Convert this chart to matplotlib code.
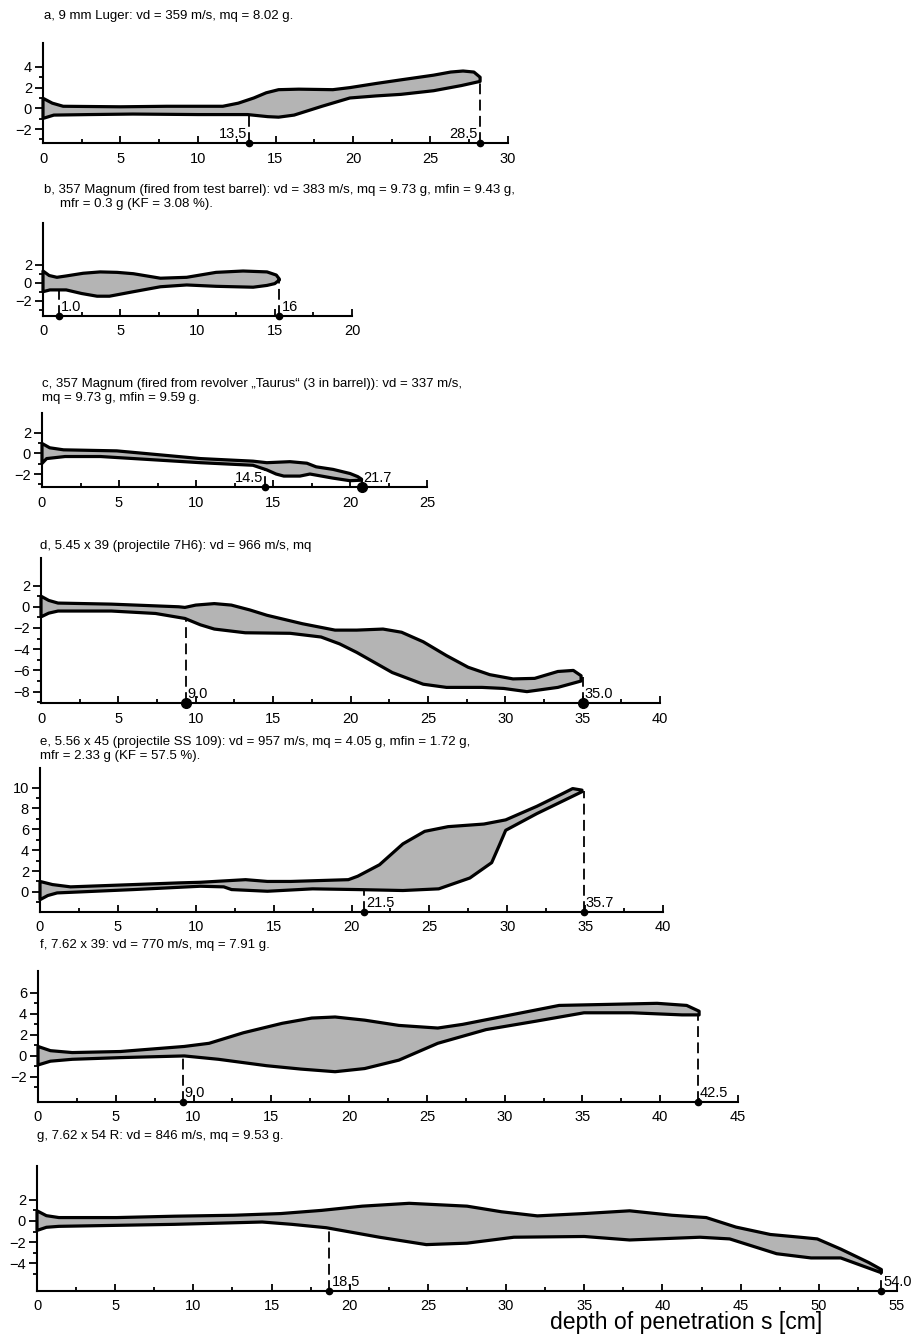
import matplotlib.pyplot as plt
from matplotlib.ticker import MultipleLocator, FixedLocator

plt.rcParams['font.family'] = ['Liberation Sans', 'DejaVu Sans']

W, H = 914, 1343

# ---- contour data (x = depth in cm, y = channel edge in cm)
titles = [
    ["a, 9 mm Luger: vd = 359 m/s, mq = 8.02 g."],
    ["b, 357 Magnum (fired from test barrel): vd = 383 m/s, mq = 9.73 g, mfin = 9.43 g,",
     "mfr = 0.3 g (KF = 3.08 %)."],
    ["c, 357 Magnum (fired from revolver \u201eTaurus\u201c (3 in barrel)): vd = 337 m/s,",
     "mq = 9.73 g, mfin = 9.59 g."],
    ["d, 5.45 x 39 (projectile 7H6): vd = 966 m/s, mq"],
    ["e, 5.56 x 45 (projectile SS 109): vd = 957 m/s, mq = 4.05 g, mfin = 1.72 g,",
     "mfr = 2.33 g (KF = 57.5 %)."],
    ["f, 7.62 x 39: vd = 770 m/s, mq = 7.91 g."],
    ["g, 7.62 x 54 R: vd = 846 m/s, mq = 9.53 g."],
]

a_up_x = [0, 0.6, 1.3, 5, 8, 11.6, 12.6, 13.6, 14.4, 15.2, 16.5, 18.7, 19.8, 21.5, 23.1, 25.2, 26.3, 27.1, 27.8, 28.2]
a_up_y = [0.97, 0.5, 0.2, 0.15, 0.2, 0.2, 0.5, 1.0, 1.5, 1.8, 1.85, 1.8, 2.0, 2.4, 2.75, 3.2, 3.5, 3.6, 3.5, 3.0]
a_lo_x = [0, 0.7, 3, 5.8, 10, 13.2, 14.5, 15.2, 16.2, 18, 19.8, 21.5, 23.1, 25.2, 27, 28.2]
a_lo_y = [-0.97, -0.65, -0.6, -0.55, -0.6, -0.6, -0.8, -0.85, -0.65, 0.2, 1.0, 1.2, 1.35, 1.7, 2.2, 2.6]
a_marks = [13.3, 28.2]
a_tops = [-0.6, 2.8]
a_labels = ['13.5', '28.5']

b_up_x = [0, 0.4, 0.9, 1.5, 2.6, 3.7, 4.8, 5.85, 7.6, 9.3, 11.2, 12.95, 14.5, 15.1, 15.3]
b_up_y = [1.3, 0.8, 0.6, 0.75, 1.05, 1.2, 1.15, 1.0, 0.5, 0.6, 1.15, 1.3, 1.2, 0.85, 0.4]
b_lo_x = [0, 0.45, 1.5, 2.5, 3.5, 4.3, 5.85, 7.6, 9.3, 11.2, 13.6, 14.5, 15.0, 15.3]
b_lo_y = [-1.0, -0.8, -0.8, -1.2, -1.5, -1.5, -1.0, -0.45, -0.25, -0.4, -0.5, -0.3, -0.1, 0.3]
b_marks = [1.04, 15.3]
b_tops = [-0.8, 0.35]
b_labels = ['1.0', '16']

c_up_x = [0, 0.5, 1.4, 4.85, 10.3, 13.7, 14.6, 16.1, 17.2, 17.8, 18.9, 20, 20.5, 20.75]
c_up_y = [0.97, 0.55, 0.35, 0.25, -0.5, -0.75, -0.9, -0.8, -0.95, -1.3, -1.55, -1.95, -2.25, -2.5]
c_lo_x = [0, 0.3, 1.5, 3.8, 10.3, 13.7, 14.6, 15.2, 15.7, 16.75, 17.4, 18.9, 20, 20.75]
c_lo_y = [-0.97, -0.5, -0.3, -0.3, -0.9, -1.15, -1.6, -2.0, -2.2, -2.2, -2.0, -2.4, -2.65, -2.6]
c_marks = [14.5, 20.75]
c_tops = [-1.5, -2.55]
c_labels = ['14.5', '21.7']

d_up_x = [0, 0.5, 1.1, 4.55, 8.9, 9.3, 10.0, 11.2, 12.3, 13.5, 14.6, 16.9, 19.0, 20.4, 22.1, 23.3, 24.7, 26.2, 27.6, 29.0, 30.5, 31.9, 33.4, 34.4, 34.9]
d_up_y = [1.0, 0.6, 0.35, 0.25, 0.0, -0.06, 0.16, 0.3, 0.16, -0.3, -0.8, -1.6, -2.2, -2.2, -2.1, -2.4, -3.3, -4.6, -5.7, -6.4, -6.8, -6.75, -6.1, -6.0, -6.5]
d_lo_x = [0, 0.5, 1.1, 4.55, 7.4, 9.3, 10.3, 11.2, 13.2, 16.1, 18.1, 19.3, 20.4, 22.7, 24.7, 26.2, 28.5, 29.9, 31.4, 33.4, 34.9]
d_lo_y = [-0.95, -0.6, -0.4, -0.4, -0.63, -1.1, -1.7, -2.1, -2.45, -2.5, -2.85, -3.5, -4.3, -6.2, -7.3, -7.6, -7.6, -7.7, -8.0, -7.6, -7.0]
d_marks = [9.35, 35.0]
d_tops = [-1.1, -6.6]
d_labels = ['9.0', '35.0']

e_up_x = [0, 0.8, 1.96, 6.0, 8.9, 10.3, 13.2, 14.6, 16.1, 19.8, 20.4, 21.8, 23.3, 24.7, 26.2, 28.5, 29.9, 31.9, 33.4, 34.2, 34.8]
e_up_y = [1.0, 0.7, 0.48, 0.7, 0.86, 0.92, 1.17, 1.0, 1.0, 1.17, 1.5, 2.6, 4.6, 5.8, 6.25, 6.5, 6.9, 8.2, 9.3, 9.9, 9.75]
e_lo_x = [0, 0.5, 1.1, 6.0, 10.3, 11.8, 12.3, 14.6, 17.5, 20.4, 23.3, 25.6, 27.6, 29.0, 29.5, 29.9, 31.9, 34.8]
e_lo_y = [-0.75, -0.35, -0.1, 0.22, 0.54, 0.48, 0.22, 0.06, 0.29, 0.22, 0.13, 0.29, 1.33, 2.8, 4.5, 5.9, 7.5, 9.6]
e_marks = [20.8, 34.9]
e_tops = [0.2, 9.7]
e_labels = ['21.5', '35.7']

f_up_x = [0, 0.8, 2.2, 5.3, 9.4, 11.0, 13.2, 15.7, 17.6, 19.1, 21.0, 23.2, 25.7, 27.3, 30.4, 33.5, 36.7, 39.8, 41.7, 42.5]
f_up_y = [0.9, 0.5, 0.32, 0.42, 0.9, 1.2, 2.2, 3.1, 3.6, 3.7, 3.4, 2.9, 2.65, 3.0, 3.9, 4.8, 4.9, 5.0, 4.8, 4.25]
f_lo_x = [0, 0.8, 2.2, 5.3, 9.4, 11.6, 14.7, 16.9, 19.1, 21.0, 23.2, 25.7, 28.8, 32.0, 35.1, 38.2, 41.4, 42.5]
f_lo_y = [-0.86, -0.5, -0.32, -0.16, 0.0, -0.32, -0.93, -1.25, -1.5, -1.2, -0.4, 1.2, 2.5, 3.3, 4.1, 4.1, 3.9, 3.9]
f_marks = [9.3, 42.4]
f_tops = [0.0, 4.0]
f_labels = ['9.0', '42.5']

g_up_x = [0, 0.6, 1.4, 5.1, 8.8, 12.6, 15.6, 18.2, 20.8, 23.8, 27.5, 29.7, 32.0, 35.0, 37.9, 40.6, 42.8, 44.7, 46.9, 48.8, 49.9, 51.4, 53.2, 54.0]
g_up_y = [0.96, 0.5, 0.32, 0.32, 0.45, 0.54, 0.7, 1.0, 1.4, 1.67, 1.4, 0.87, 0.48, 0.7, 0.96, 0.54, 0.32, -0.58, -1.28, -1.54, -1.7, -2.66, -3.94, -4.6]
g_lo_x = [0, 0.6, 1.4, 8.8, 14.4, 16.3, 18.5, 21.9, 24.9, 27.5, 30.5, 35.0, 37.9, 42.4, 44.3, 47.3, 49.5, 51.4, 54.0]
g_lo_y = [-0.9, -0.6, -0.51, -0.32, -0.1, -0.32, -0.64, -1.54, -2.24, -2.1, -1.54, -1.47, -1.8, -1.54, -1.7, -3.1, -3.5, -3.5, -4.9]
g_marks = [18.7, 54.0]
g_tops = [-0.6, -4.8]
g_labels = ['18.5', '54.0']

panels = [
    (a_up_x, a_up_y, a_lo_x, a_lo_y, a_marks, a_tops, a_labels),
    (b_up_x, b_up_y, b_lo_x, b_lo_y, b_marks, b_tops, b_labels),
    (c_up_x, c_up_y, c_lo_x, c_lo_y, c_marks, c_tops, c_labels),
    (d_up_x, d_up_y, d_lo_x, d_lo_y, d_marks, d_tops, d_labels),
    (e_up_x, e_up_y, e_lo_x, e_lo_y, e_marks, e_tops, e_labels),
    (f_up_x, f_up_y, f_lo_x, f_lo_y, f_marks, f_tops, f_labels),
    (g_up_x, g_up_y, g_lo_x, g_lo_y, g_marks, g_tops, g_labels),
]

# ---- layout: axes box in pixels (left, right, top, bottom), x max, y limits, y tick labels
boxes = [
    (43, 508, 42.7, 143.3, 30, (-3.37, 6.33), [-2, 0, 2, 4]),
    (43, 352, 222.7, 316, 20, (-3.7, 6.67), [-2, 0, 2]),
    (42, 427, 413.3, 487.3, 25, (-3.29, 3.9), [-2, 0, 2]),
    (41, 660, 558, 703.3, 40, (-9.1, 4.6), [-8, -6, -4, -2, 0, 2]),
    (40, 663, 767.7, 911.7, 40, (-1.9, 11.9), [0, 2, 4, 6, 8, 10]),
    (38, 738, 970.7, 1101.7, 45, (-4.35, 8.1), [-2, 0, 2, 4, 6]),
    (37, 897, 1166, 1290.7, 55, (-6.6, 5.2), [-4, -2, 0, 2]),
]
title_pos = [
    [(44, 16)],
    [(44, 190), (60, 204)],
    [(42, 384), (42, 398)],
    [(40, 546)],
    [(40, 742), (40, 756)],
    [(40, 945)],
    [(37, 1136)],
]
label_left = [[True, True], [False, False], [True, False],
              [False, False], [False, False], [False, False], [False, False]]
big_dot = [[False, False], [False, False], [False, True],
           [True, True], [False, False], [False, False], [False, False]]

fig = plt.figure(figsize=(W / 100, H / 100), dpi=100)

for i, (data, box) in enumerate(zip(panels, boxes)):
    up_x, up_y, lo_x, lo_y, marks, tops, labels = data
    l, r, t, b, xmax, ylim, yt = box
    ax = fig.add_axes([l / W, 1 - b / H, (r - l) / W, (b - t) / H])
    ax.set_xlim(0, xmax)
    ax.set_ylim(*ylim)

    xs = list(up_x) + list(lo_x[::-1])
    ys = list(up_y) + list(lo_y[::-1])
    ax.fill(xs, ys, facecolor='#b4b4b4', edgecolor='black', lw=2.3,
            joinstyle='round', clip_on=False, zorder=3)

    for j, (m, top, lab) in enumerate(zip(marks, tops, labels)):
        ax.plot([m, m], [ylim[0], top], color='black', lw=1.3,
                dashes=(6, 3), zorder=2)
        ax.plot(m, ylim[0], 'o', color='black', ms=7 if big_dot[i][j] else 4.5,
                clip_on=False, zorder=5)
        if label_left[i][j]:
            ax.annotate(lab, (m, ylim[0]), xytext=(-1.5, 1.5),
                        textcoords='offset points', ha='right', va='bottom',
                        fontsize=10.5)
        else:
            ax.annotate(lab, (m, ylim[0]), xytext=(1.5, 1.5),
                        textcoords='offset points', ha='left', va='bottom',
                        fontsize=10.5)

    ax.spines[['top', 'right']].set_visible(False)
    ax.spines[['left', 'bottom']].set_linewidth(1.5)
    ax.xaxis.set_major_locator(MultipleLocator(5))
    ax.xaxis.set_minor_locator(MultipleLocator(2.5))
    ax.yaxis.set_major_locator(FixedLocator(yt))
    ax.yaxis.set_minor_locator(FixedLocator(list(range(yt[0] - 1, yt[-1], 2))))
    ax.tick_params(axis='x', which='major', direction='in', length=5, width=1.3,
                   pad=6, labelsize=10.5)
    ax.tick_params(axis='x', which='minor', direction='in', length=3, width=1.3)
    ax.tick_params(axis='y', which='major', direction='out', length=6, width=1.3,
                   pad=2, labelsize=10.5)
    ax.tick_params(axis='y', which='minor', direction='out', length=3, width=1.3)
    ax.set_facecolor('none')

    for txt, (tx, ty) in zip(titles[i], title_pos[i]):
        fig.text(tx / W, 1 - ty / H, txt, fontsize=9.5, ha='left', va='center')

fig.text(822 / W, 1 - 1323 / H, 'depth of penetration s [cm]', fontsize=16.6,
         ha='right', va='center')

fig.savefig('out.png', dpi=100)
